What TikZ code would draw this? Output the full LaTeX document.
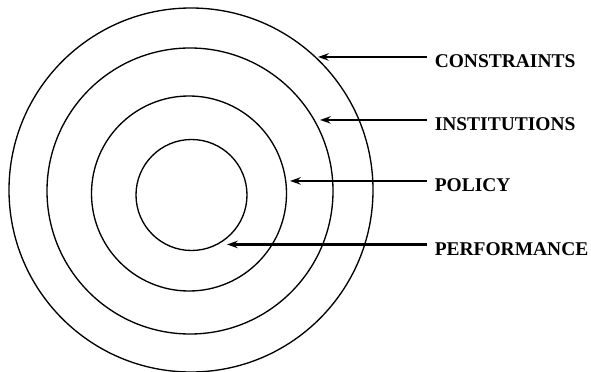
\documentclass[tikz,border=0pt]{standalone}
\usepackage{fontspec}
\setmainfont{Liberation Serif}
\usetikzlibrary{arrows.meta, calc}

\begin{document}
\begin{tikzpicture}[x=0.75pt, y=0.75pt, >=Stealth,
  ring/.style={draw, circle, line width=1pt, inner sep=0pt},
  lbl/.style={anchor=base west, inner sep=0pt, text height=15.8pt, text depth=0pt,
    font=\fontsize{14.6}{16}\selectfont\bfseries},
  pointer/.style={->, line width=1.9pt, >={Stealth[length=8pt, width=5.5pt]}}]
  \useasboundingbox (0,0) rectangle (591,371);

  % rings, outermost first (centres drift a little, as in the scan)
  \node[ring, minimum size=364*0.75pt] (outer)  at (191,181)   {};
  \node[ring, minimum size=286*0.75pt] (middle) at (190,180)   {};
  \node[ring, minimum size=195*0.75pt] (policyring) at (189,177.5) {};
  \node[ring, minimum size=111*0.75pt] (core)   at (191.5,176) {};

  % labels on the right, arrows pointing back to the rings
  \foreach \name/\txt/\base/\tip in {cons/CONSTRAINTS/303.5/318,
      inst/INSTITUTIONS/240.5/320, pol/POLICY/179.5/290,
      perf/PERFORMANCE/116/227} {
    \node[lbl] (\name) at (434.5,\base) {\txt};
    \coordinate (tip\name) at (\tip,0);
    \draw[pointer] ([xshift=-6pt]\name.west) -- (\name.west -| tip\name);
  }
\end{tikzpicture}
\end{document}
